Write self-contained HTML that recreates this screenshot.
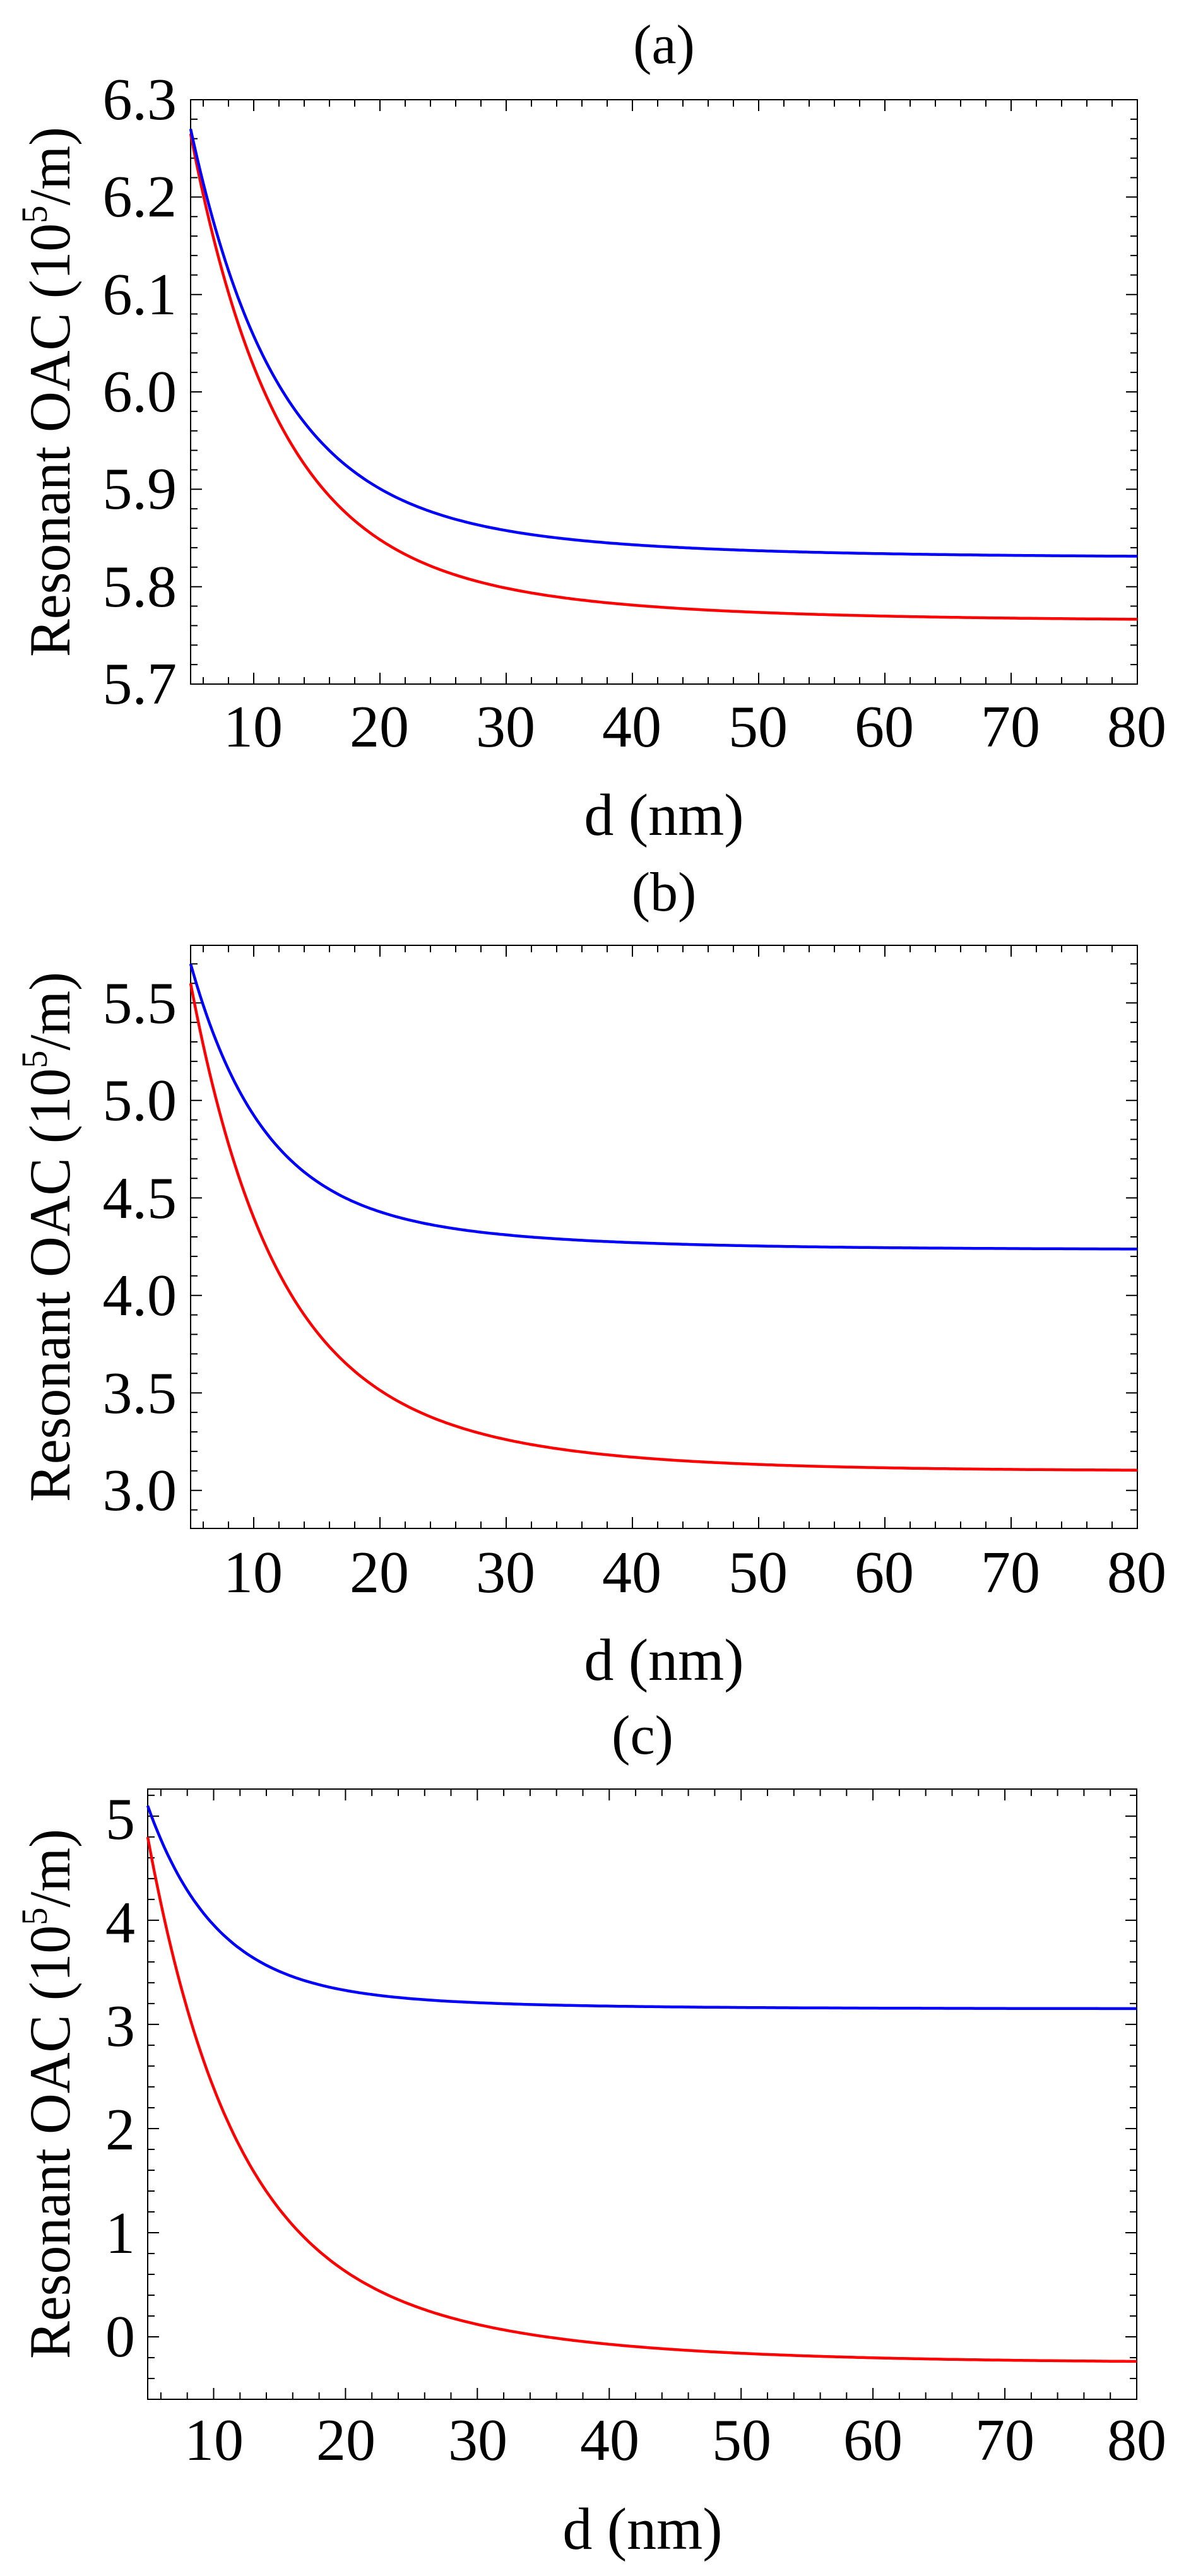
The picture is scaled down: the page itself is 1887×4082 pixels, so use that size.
<!DOCTYPE html>
<html><head><meta charset="utf-8"><style>
html,body{margin:0;padding:0;background:#fff;}
svg{display:block;}
svg text{font-family:"Liberation Serif","Times New Roman",serif !important;fill:#000;}
</style></head><body>
<svg id="s" width="1887" height="4082" viewBox="0 0 1887 4082" xmlns="http://www.w3.org/2000/svg" font-family="Liberation Serif, serif">
<rect width="1887" height="4082" fill="#fff"/>
<g id="g"></g>
<!-- Panel (a) -->
<text x="1052" y="100" font-size="88" text-anchor="middle">(a)</text>
<text x="110" y="621" font-size="92" text-anchor="middle" transform="rotate(-90 110 621)" textLength="840" lengthAdjust="spacingAndGlyphs">Resonant OAC (10<tspan font-size="58" dy="-36">5</tspan><tspan dy="36">/m)</tspan></text>
<g font-size="94" text-anchor="end">
<text x="280" y="189">6.3</text><text x="280" y="343">6.2</text><text x="280" y="498">6.1</text><text x="280" y="652">6.0</text><text x="280" y="806">5.9</text><text x="280" y="961">5.8</text><text x="280" y="1115">5.7</text>
</g>
<g font-size="94" text-anchor="middle">
<text x="401" y="1183">10</text><text x="601" y="1183">20</text><text x="801" y="1183">30</text><text x="1001" y="1183">40</text><text x="1201" y="1183">50</text><text x="1401" y="1183">60</text><text x="1601" y="1183">70</text><text x="1801" y="1183">80</text>
<text x="1052" y="1323">d (nm)</text>
</g>
<!-- Panel (b) -->
<text x="1052" y="1443" font-size="88" text-anchor="middle">(b)</text>
<text x="110" y="1960" font-size="92" text-anchor="middle" transform="rotate(-90 110 1960)" textLength="840" lengthAdjust="spacingAndGlyphs">Resonant OAC (10<tspan font-size="58" dy="-36">5</tspan><tspan dy="36">/m)</tspan></text>
<g font-size="94" text-anchor="end">
<text x="280" y="1621">5.5</text><text x="280" y="1775">5.0</text><text x="280" y="1930">4.5</text><text x="280" y="2084">4.0</text><text x="280" y="2239">3.5</text><text x="280" y="2393">3.0</text>
</g>
<g font-size="94" text-anchor="middle">
<text x="401" y="2523">10</text><text x="601" y="2523">20</text><text x="801" y="2523">30</text><text x="1001" y="2523">40</text><text x="1201" y="2523">50</text><text x="1401" y="2523">60</text><text x="1601" y="2523">70</text><text x="1801" y="2523">80</text>
<text x="1052" y="2662">d (nm)</text>
</g>
<!-- Panel (c) -->
<text x="1018" y="2779" font-size="88" text-anchor="middle">(c)</text>
<text x="110" y="3318" font-size="92" text-anchor="middle" transform="rotate(-90 110 3318)" textLength="840" lengthAdjust="spacingAndGlyphs">Resonant OAC (10<tspan font-size="58" dy="-36">5</tspan><tspan dy="36">/m)</tspan></text>
<g font-size="94" text-anchor="end">
<text x="214" y="2914">5</text><text x="214" y="3078">4</text><text x="214" y="3242">3</text><text x="214" y="3406">2</text><text x="214" y="3570">1</text><text x="214" y="3734">0</text>
</g>
<g font-size="94" text-anchor="middle">
<text x="339" y="3898">10</text><text x="548" y="3898">20</text><text x="757" y="3898">30</text><text x="966" y="3898">40</text><text x="1175" y="3898">50</text><text x="1383" y="3898">60</text><text x="1592" y="3898">70</text><text x="1801" y="3898">80</text>
<text x="1018" y="4039">d (nm)</text>
</g>
</svg>
<script>
(function(){
var NS="http://www.w3.org/2000/svg",g=document.getElementById("g");
function el(n,a){var e=document.createElementNS(NS,n);for(var k in a)e.setAttribute(k,a[k]);g.appendChild(e);return e;}
var panels=[
 {L:302,R:1802,T:158,B:1084,y0:5.7,y1:6.3,maj:0.1,min:0.02,
  blue:[5.83,0.36,6.5,0.08,18],red:[5.765,0.40,6.5,0.10,18]},
 {L:302,R:1802,T:1498,B:2422,y0:2.805,y1:5.795,maj:0.5,min:0.1,
  blue:[4.235,1.165,5.5,0.30,16],red:[3.1,1.7,6,0.8,14]},
 {L:234,R:1801,T:2835,B:3802,y0:-0.6,y1:5.26,maj:1,min:0.2,
  blue:[3.15,1.7,5,0.25,15],red:[-0.25,3.55,6,1.5,16]}
];
panels.forEach(function(p){
 function X(x){return p.L+(x-5)/75*(p.R-p.L);}
 function Y(y){return p.B-(y-p.y0)/(p.y1-p.y0)*(p.B-p.T);}
 var d="";
 for(var x=6;x<=80.001;x+=2){var big=Math.abs(x/10-Math.round(x/10))<1e-6;var l=big?18:11;var px=X(x).toFixed(1);
  d+="M"+px+" "+p.B+"v"+(-l)+"M"+px+" "+p.T+"v"+l;}
 var s=Math.ceil((p.y0-1e-9)/p.min);
 for(var k=s;k*p.min<=p.y1+1e-9;k++){var y=k*p.min;var r=y/p.maj;var big=Math.abs(r-Math.round(r))<1e-6;var l=big?18:11;var py=Y(y).toFixed(1);
  d+="M"+p.L+" "+py+"h"+l+"M"+p.R+" "+py+"h"+(-l);}
 el("path",{d:d,stroke:"#000","stroke-width":2,fill:"none"});
 el("rect",{x:p.L,y:p.T,width:p.R-p.L,height:p.B-p.T,stroke:"#000","stroke-width":2,fill:"none"});
 [["red","#f00"],["blue","#00f"]].forEach(function(c){
  var q=p[c[0]],pts=[];
  for(var x=5;x<=80.0001;x+=0.25){var v=q[0]+q[1]*Math.exp(-(x-5)/q[2])+q[3]*Math.exp(-(x-5)/q[4]);pts.push(X(x).toFixed(1)+","+Y(v).toFixed(1));}
  el("polyline",{points:pts.join(" "),stroke:c[1],"stroke-width":4.5,fill:"none"});
 });
});
})();
</script>
</body></html>
